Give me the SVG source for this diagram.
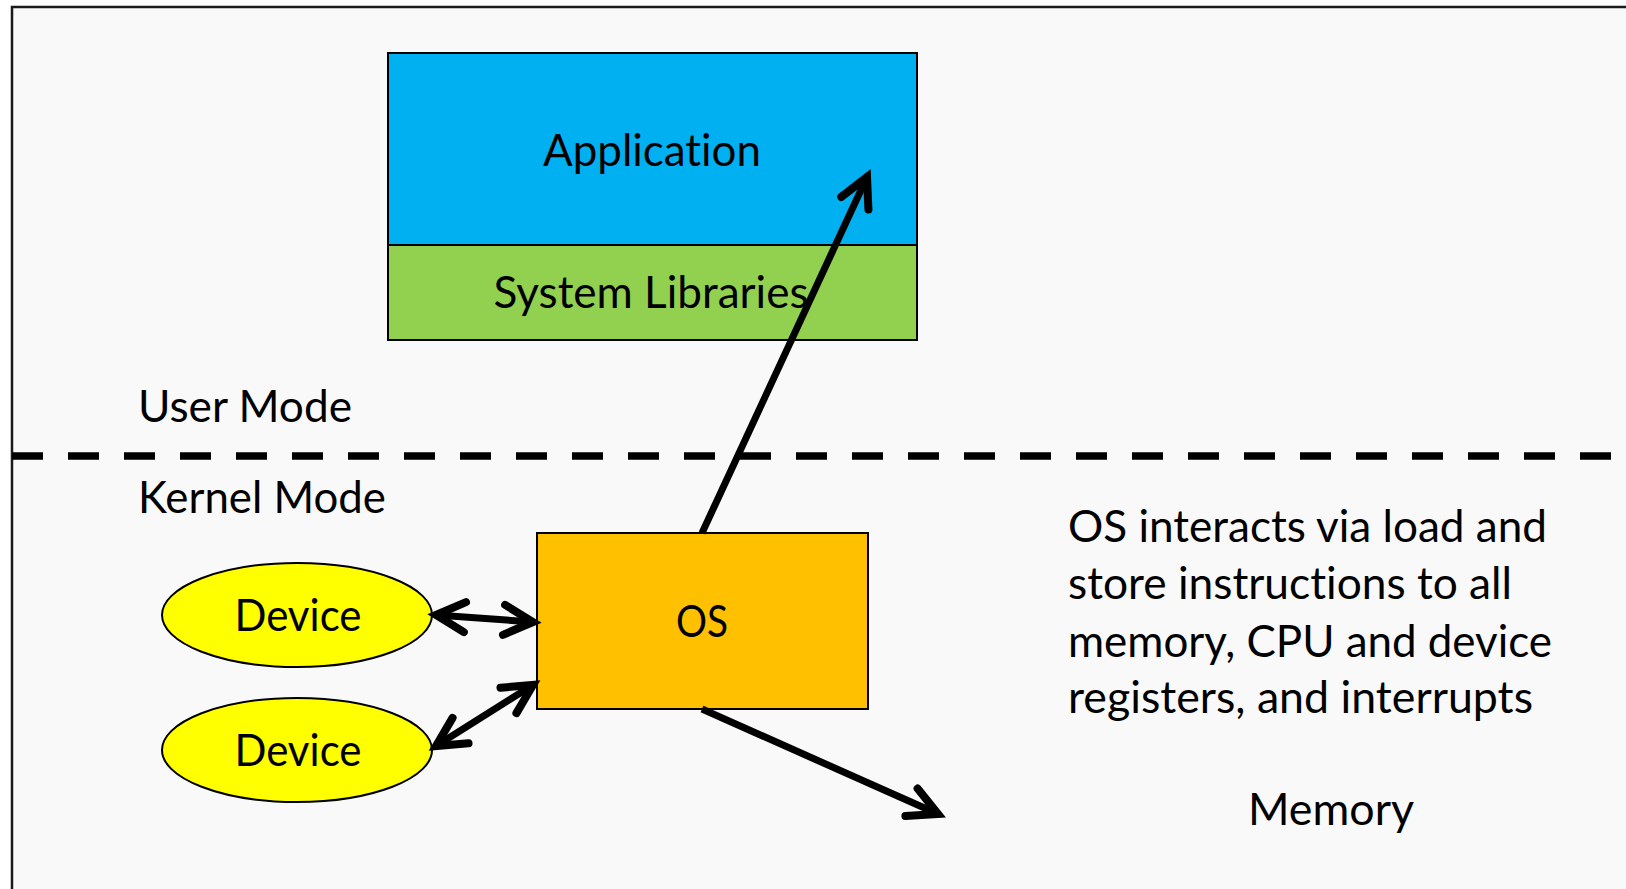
<svg xmlns="http://www.w3.org/2000/svg" width="1626" height="889" viewBox="0 0 1626 889">
<defs>
<style>
.t{font-family:Lato,"Liberation Sans",sans-serif;font-size:44px;fill:#000;font-variant-ligatures:none;font-feature-settings:"liga" 0;}
.c{text-anchor:middle;}
.box{stroke:#000;stroke-width:2;}
.conn{stroke:#000;stroke-width:7;fill:none;}
</style>
<marker id="ah" markerUnits="userSpaceOnUse" markerWidth="60" markerHeight="60" viewBox="-40 -30 50 60" refX="0" refY="0" orient="auto-start-reverse" overflow="visible">
<path d="M-29,-15 L0,0 L-29,15" fill="none" stroke="#000" stroke-width="8" stroke-linecap="round" stroke-linejoin="miter"/>
</marker>
</defs>
<rect x="0" y="0" width="1626" height="889" fill="#ffffff"/>
<rect x="12" y="7" width="1640" height="900" fill="#f9f9f9" stroke="#1a1a1a" stroke-width="2.5"/>
<g id="application">
<rect class="box" x="388" y="53" width="529" height="192" fill="#00b0f0"/>
<text class="t c" x="652" y="166" textLength="218" lengthAdjust="spacingAndGlyphs">Application</text>
</g>
<g id="system-libraries">
<rect class="box" x="388" y="245" width="529" height="95" fill="#92d050"/>
<text class="t c" x="651" y="308" textLength="315" lengthAdjust="spacingAndGlyphs">System Libraries</text>
</g>
<g id="mode-divider">
<line x1="12" y1="456" x2="1626" y2="456" stroke="#000" stroke-width="7.5" stroke-dasharray="31 25"/>
<text class="t" x="138" y="422" textLength="214" lengthAdjust="spacingAndGlyphs">User Mode</text>
<text class="t" x="138" y="513" textLength="248" lengthAdjust="spacingAndGlyphs">Kernel Mode</text>
</g>
<g id="os">
<rect class="box" x="537" y="533" width="331" height="176" fill="#ffc000"/>
<text class="t c" x="702" y="637" textLength="52" lengthAdjust="spacingAndGlyphs">OS</text>
</g>
<g id="device1">
<ellipse class="box" cx="297" cy="615" rx="135" ry="52" fill="#ffff00"/>
<text class="t c" x="298" y="631" textLength="127" lengthAdjust="spacingAndGlyphs">Device</text>
</g>
<g id="device2">
<ellipse class="box" cx="297" cy="750" rx="135" ry="52" fill="#ffff00"/>
<text class="t c" x="298" y="766" textLength="127" lengthAdjust="spacingAndGlyphs">Device</text>
</g>
<g id="note">
<text class="t" x="1068" y="542" textLength="479" lengthAdjust="spacingAndGlyphs">OS interacts via load and</text>
<text class="t" x="1068" y="599" textLength="444" lengthAdjust="spacingAndGlyphs">store instructions to all</text>
<text class="t" x="1068" y="657" textLength="484" lengthAdjust="spacingAndGlyphs">memory, CPU and device</text>
<text class="t" x="1068" y="713" textLength="465" lengthAdjust="spacingAndGlyphs">registers, and interrupts</text>
</g>
<g id="memory">
<text class="t c" x="1331" y="825" textLength="166" lengthAdjust="spacingAndGlyphs">Memory</text>
</g>
<g id="connectors">
<line class="conn" x1="702" y1="533" x2="867" y2="177" marker-end="url(#ah)"/>
<line class="conn" x1="436" y1="615" x2="533" y2="622" marker-start="url(#ah)" marker-end="url(#ah)"/>
<line class="conn" x1="436" y1="746" x2="533" y2="685" marker-start="url(#ah)" marker-end="url(#ah)"/>
<line class="conn" x1="702" y1="709" x2="938" y2="814" marker-end="url(#ah)"/>
</g>
</svg>
